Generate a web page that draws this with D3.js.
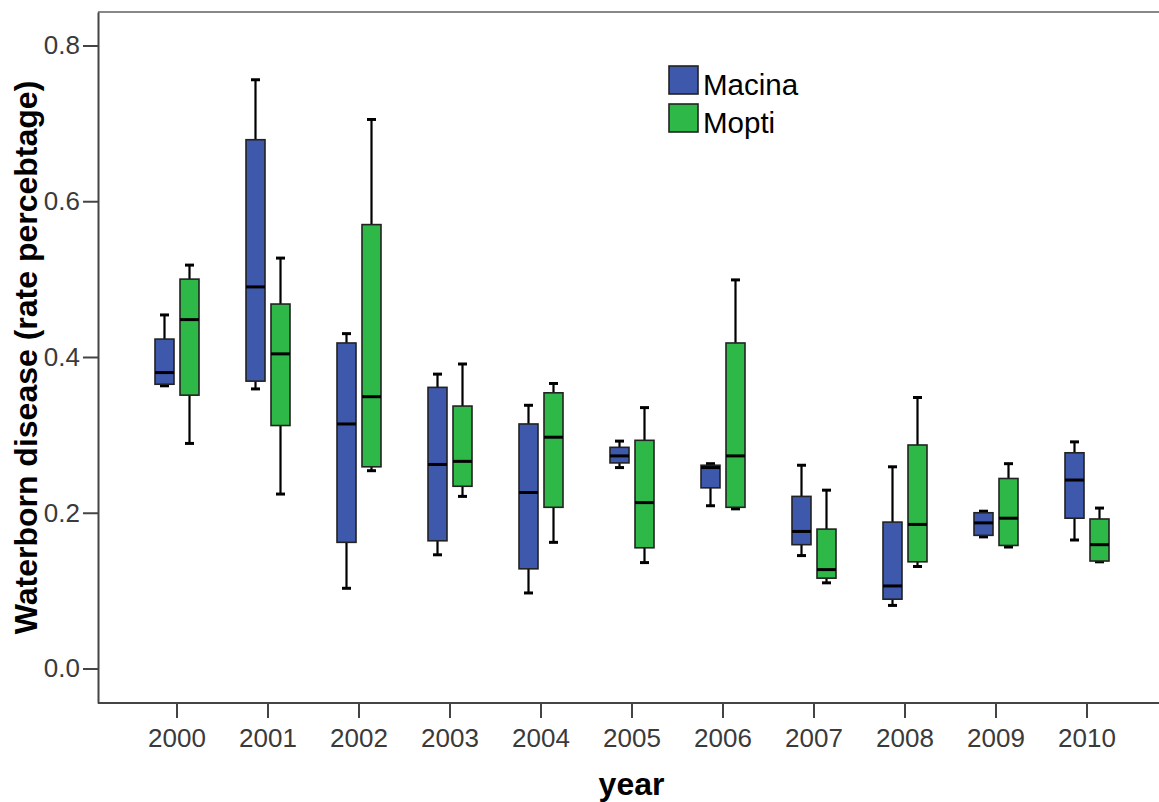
<!DOCTYPE html>
<html>
<head>
<meta charset="utf-8">
<script src="https://cdn.jsdelivr.net/npm/d3@7"></script>
<style>
  body { margin: 0; background: #fff; }
  svg { font-family: "Liberation Sans", Arial, sans-serif; }
  .axis text { fill: #3a3a3a; font-size: 26px; }
  .axis path, .axis line { stroke: #444; stroke-width: 2px; }
</style>
</head>
<body>
<svg id="chart" width="1159" height="802"></svg>
<script>
const years = ["2000", "2001", "2002", "2003", "2004", "2005", "2006", "2007", "2008", "2009", "2010"];
const seriesNames = ["Macina", "Mopti"];
const seriesColors = ["#3E58AC", "#2EB848"];
const yTicks = [0, 0.2, 0.4, 0.6, 0.8];

// Macina box stats per year
const macinaMin = [0.363, 0.359, 0.103, 0.146, 0.097, 0.258, 0.209, 0.145, 0.081, 0.169, 0.165];
const macinaQ1  = [0.365, 0.369, 0.162, 0.164, 0.128, 0.264, 0.232, 0.159, 0.089, 0.171, 0.193];
const macinaMed = [0.380, 0.490, 0.314, 0.262, 0.226, 0.273, 0.258, 0.176, 0.106, 0.187, 0.242];
const macinaQ3  = [0.423, 0.679, 0.418, 0.361, 0.314, 0.284, 0.261, 0.221, 0.188, 0.200, 0.277];
const macinaMax = [0.454, 0.756, 0.430, 0.378, 0.338, 0.292, 0.263, 0.261, 0.259, 0.202, 0.291];

// Mopti box stats per year
const moptiMin = [0.289, 0.224, 0.254, 0.221, 0.162, 0.136, 0.205, 0.110, 0.131, 0.156, 0.137];
const moptiQ1  = [0.351, 0.312, 0.259, 0.234, 0.207, 0.155, 0.207, 0.116, 0.137, 0.158, 0.138];
const moptiMed = [0.448, 0.404, 0.349, 0.266, 0.297, 0.213, 0.273, 0.127, 0.185, 0.193, 0.159];
const moptiQ3  = [0.500, 0.468, 0.570, 0.337, 0.354, 0.293, 0.418, 0.179, 0.287, 0.244, 0.192];
const moptiMax = [0.518, 0.527, 0.705, 0.391, 0.366, 0.335, 0.499, 0.229, 0.348, 0.263, 0.206];

const stats = {
  Macina: [macinaMin, macinaQ1, macinaMed, macinaQ3, macinaMax],
  Mopti: [moptiMin, moptiQ1, moptiMed, moptiQ3, moptiMax]
};

const boxes = [];
seriesNames.forEach((s, si) => {
  years.forEach((yr, i) => {
    const st = stats[s];
    boxes.push({ series: s, color: seriesColors[si], year: yr,
      min: st[0][i], q1: st[1][i], med: st[2][i], q3: st[3][i], max: st[4][i] });
  });
});

const svg = d3.select("#chart");
const plotLeft = 98, plotTop = 12, plotBottom = 703, plotRight = 1170;

const x = d3.scaleBand().domain(years).range([131.5, 1132.5]).padding(0);
const x1 = d3.scaleBand().domain(seriesNames).range([x.bandwidth() / 2 - 25, x.bandwidth() / 2 + 25]);
const y = d3.scaleLinear().domain([-0.0443, 0.843]).range([plotBottom, plotTop]);

const boxW = 19, capW = 9;

// top frame line
svg.append("line")
  .attr("x1", plotLeft).attr("x2", plotRight)
  .attr("y1", plotTop).attr("y2", plotTop)
  .attr("stroke", "#888").attr("stroke-width", 2);

// axes
svg.append("g")
  .attr("class", "axis")
  .attr("transform", `translate(${plotLeft},0)`)
  .call(d3.axisLeft(y).tickValues(yTicks).tickFormat(d3.format(".1f"))
    .tickSize(15).tickSizeOuter(0).tickPadding(3));

svg.append("g")
  .attr("class", "axis")
  .attr("transform", `translate(0,${plotBottom})`)
  .call(d3.axisBottom(x).tickSize(15).tickSizeOuter(0).tickPadding(11))
  .call(g => g.select(".domain").attr("d", `M${plotLeft},0H${plotRight}`));

// boxes
const g = svg.append("g")
  .selectAll("g")
  .data(boxes)
  .join("g")
  .attr("transform", d => `translate(${x(d.year) + x1(d.series) + x1.bandwidth() / 2},0)`);

// whiskers
g.append("line")
  .attr("y1", d => y(d.max)).attr("y2", d => y(d.q3))
  .attr("stroke", "#000").attr("stroke-width", 2.2);
g.append("line")
  .attr("y1", d => y(d.min)).attr("y2", d => y(d.q1))
  .attr("stroke", "#000").attr("stroke-width", 2.2);
g.append("line")
  .attr("x1", -capW / 2).attr("x2", capW / 2)
  .attr("y1", d => y(d.max)).attr("y2", d => y(d.max))
  .attr("stroke", "#000").attr("stroke-width", 3);
g.append("line")
  .attr("x1", -capW / 2).attr("x2", capW / 2)
  .attr("y1", d => y(d.min)).attr("y2", d => y(d.min))
  .attr("stroke", "#000").attr("stroke-width", 3);

g.append("rect")
  .attr("x", -boxW / 2)
  .attr("width", boxW)
  .attr("y", d => y(d.q3))
  .attr("height", d => y(d.q1) - y(d.q3))
  .attr("fill", d => d.color)
  .attr("stroke", "#222")
  .attr("stroke-width", 1.6);

g.append("line")
  .attr("x1", -boxW / 2).attr("x2", boxW / 2)
  .attr("y1", d => y(d.med)).attr("y2", d => y(d.med))
  .attr("stroke", "#000").attr("stroke-width", 3);

// legend
const legend = svg.append("g")
  .selectAll("g")
  .data(seriesNames)
  .join("g")
  .attr("transform", (d, i) => `translate(669,${66 + i * 38})`);
legend.append("rect")
  .attr("width", 29).attr("height", 28)
  .attr("fill", (d, i) => seriesColors[i])
  .attr("stroke", "#222").attr("stroke-width", 1.6);
legend.append("text")
  .attr("x", 34).attr("y", 29)
  .attr("font-size", "29.5px")
  .attr("fill", "#000")
  .text(d => d);

// axis titles
svg.append("text")
  .attr("transform", "translate(37,357.5) rotate(-90)")
  .attr("text-anchor", "middle")
  .attr("font-size", "32px")
  .attr("font-weight", "bold")
  .text("Waterborn disease (rate percebtage)");

svg.append("text")
  .attr("x", 631.5).attr("y", 795)
  .attr("text-anchor", "middle")
  .attr("font-size", "32px")
  .attr("font-weight", "bold")
  .text("year");
</script>
</body>
</html>
